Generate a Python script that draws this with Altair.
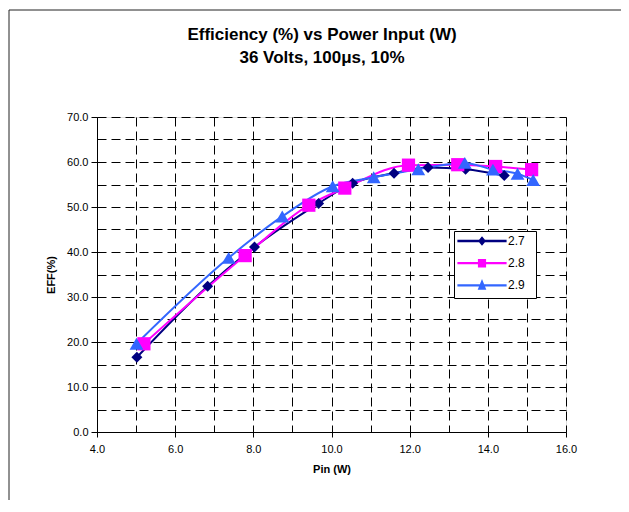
import altair as alt
import pandas as pd

# ---- data ----
series_names = ["2.7", "2.8", "2.9"]
pin_27 = [5.02, 6.83, 8.03, 9.67, 10.54, 11.60, 12.47, 13.43, 14.42]
eff_27 = [16.6, 32.4, 41.1, 50.8, 55.3, 57.5, 58.8, 58.4, 57.0]
pin_28 = [5.20, 7.79, 9.42, 10.34, 11.97, 13.23, 14.20, 15.12]
eff_28 = [19.6, 39.2, 50.4, 54.2, 59.3, 59.4, 59.0, 58.3]
pin_29 = [5.01, 7.37, 8.74, 10.03, 11.08, 12.22, 13.41, 14.13, 14.76, 15.16]
eff_29 = [19.6, 38.7, 47.9, 54.6, 56.6, 58.4, 59.8, 58.3, 57.4, 56.0]

x_ticks = [4, 5, 6, 7, 8, 9, 10, 11, 12, 13, 14, 15, 16]
y_ticks = [0, 5, 10, 15, 20, 25, 30, 35, 40, 45, 50, 55, 60, 65, 70]
title_lines = ["Efficiency (%) vs Power Input (W)", "36 Volts, 100\u03bcs, 10%"]
x_title = "Pin (W)"
y_title = "EFF(%)"

colors = ["#000080", "#FF00FF", "#3366FF"]
shapes = ["diamond", "square", "triangle-up"]
sizes = [121, 175, 190]
# legend symbols: a line segment with the series marker on it (all sub-paths clockwise)
legend_shapes = [
    "M-4.1,-0.19L4.1,-0.19L4.1,0.19L-4.1,0.19ZM0,-0.78L0.66,0L0,0.78L-0.66,0Z",
    "M-4.1,-0.19L4.1,-0.19L4.1,0.19L-4.1,0.19ZM-0.68,-0.7L0.68,-0.7L0.68,0.7L-0.68,0.7Z",
    "M-4.1,-0.19L4.1,-0.19L4.1,0.19L-4.1,0.19ZM0,-1.05L0.72,0.72L-0.72,0.72Z",
]

rows = []
for name, xs, ys in [("2.7", pin_27, eff_27), ("2.8", pin_28, eff_28), ("2.9", pin_29, eff_29)]:
    for xv, yv in zip(xs, ys):
        rows.append({"series": name, "pin": xv, "eff": yv})
df = pd.DataFrame(rows)

FONT = "Liberation Sans"

x_axis = alt.Axis(
    values=x_ticks,
    labelExpr="datum.value % 2 == 0 ? format(datum.value, '.1f') : ''",
    labelFlush=False, labelOverlap=False,
    grid=True, gridDash=[9, 5], gridColor="black", gridWidth=1,
    tickOpacity={"condition": {"test": "datum.value % 2 != 0", "value": 0}, "value": 1},
    tickSize=5, tickColor="black", domainColor="black",
    labelFont=FONT, labelFontSize=11, labelColor="black", labelPadding=6,
    title=x_title, titleFont=FONT, titleFontSize=11, titleFontWeight="bold",
    titleColor="black", titlePadding=9,
)
y_axis = alt.Axis(
    values=y_ticks,
    labelExpr="datum.value % 10 == 0 ? format(datum.value, '.1f') : ''",
    labelFlush=False, labelOverlap=False,
    grid=True, gridDash=[9, 5], gridColor="black", gridWidth=1,
    tickOpacity={"condition": {"test": "datum.value % 10 != 0", "value": 0}, "value": 1},
    tickSize=6, tickColor="black", domainColor="black",
    labelFont=FONT, labelFontSize=11, labelColor="black", labelPadding=3,
    title=y_title, titleFont=FONT, titleFontSize=11, titleFontWeight="bold",
    titleColor="black", titlePadding=10,
)

x_enc = alt.X("pin:Q", scale=alt.Scale(domain=[4, 16], nice=False), axis=x_axis)
y_enc = alt.Y("eff:Q", scale=alt.Scale(domain=[0, 70], nice=False), axis=y_axis)
color_scale = alt.Scale(domain=series_names, range=colors)

one = alt.Data(values=[{"k": 1}])

# legend box (drawn under the legend entries)
legend_box = alt.Chart(one).mark_rect(fill="white", stroke="black", strokeWidth=1).encode(
    x=alt.value(357.5), x2=alt.value(439.5), y=alt.value(114.5), y2=alt.value(181.5),
)

lines = alt.Chart(df).mark_line(interpolate="monotone", strokeWidth=2).encode(
    x=x_enc, y=y_enc,
    color=alt.Color("series:N", scale=color_scale, legend=None),
    detail="series:N",
)

point_layers = []
for name, shp, sz in zip(series_names, shapes, sizes):
    point_layers.append(
        alt.Chart(df).transform_filter(alt.datum.series == name)
        .mark_point(filled=True, opacity=1, shape=shp, size=sz)
        .encode(x=x_enc, y=y_enc,
                color=alt.Color("series:N", scale=color_scale, legend=None))
    )

legend_layers = []
for i, (name, col, path) in enumerate(zip(series_names, colors, legend_shapes)):
    leg = alt.Legend(
        orient="none", legendX=361, legendY=118 + 22.2 * i, title=None,
        padding=0, symbolOffset=18, labelOffset=20,
        symbolSize=144, symbolStrokeWidth=0, symbolOpacity=1,
        symbolFillColor=col,
        labelFont=FONT, labelFontSize=12, labelColor="black",
    )
    legend_layers.append(
        alt.Chart(alt.Data(values=[{"series": name}]))
        .mark_point(filled=True, opacity=0, size=144, fill=col)
        .encode(shape=alt.Shape("series:N", scale=alt.Scale(domain=[name], range=[path]), legend=leg))
    )

frame = alt.Chart(one).mark_rect(fill="white", fillOpacity=0, stroke="#222222", strokeWidth=1).encode(
    x=alt.value(-88), x2=alt.value(700), y=alt.value(-107), y2=alt.value(600),
)
title1 = alt.Chart(one).mark_text(
    font=FONT, fontSize=17, fontWeight="bold", color="black", align="center", baseline="alphabetic",
).encode(x=alt.value(225), y=alt.value(-77), text=alt.value(title_lines[0]))
title2 = alt.Chart(one).mark_text(
    font=FONT, fontSize=17, fontWeight="bold", color="black", align="center", baseline="alphabetic",
).encode(x=alt.value(225), y=alt.value(-54), text=alt.value(title_lines[1]))

chart = alt.layer(frame, lines, *point_layers, legend_box, *legend_layers, title1, title2).resolve_scale(
    shape="independent"
).properties(
    width=469, height=315,
    padding={"left": 89, "top": 109, "right": 55, "bottom": 68},
    autosize=alt.AutoSizeParams(type="none"),
).configure_view(stroke="black", strokeWidth=1).configure(background="white")

chart.save("out.html", embed_options={"renderer": "svg", "actions": False})
